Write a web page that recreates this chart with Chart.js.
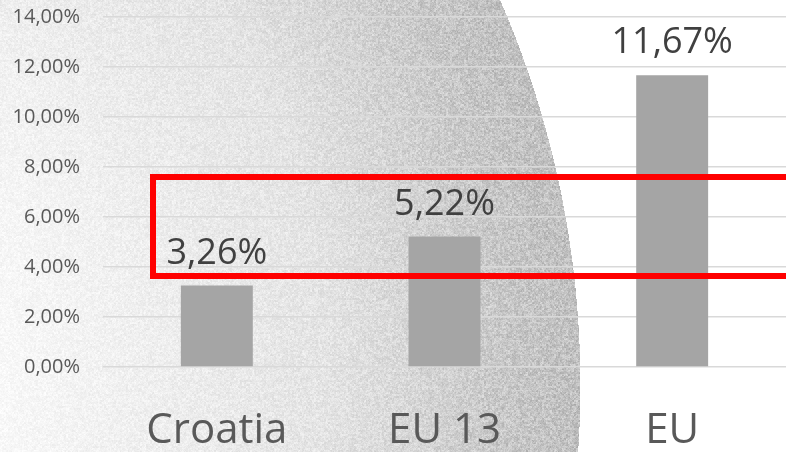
<!DOCTYPE html>
<html>
<head>
<meta charset="utf-8">
<script src="https://cdn.jsdelivr.net/npm/chart.js@4.4.0/dist/chart.umd.min.js"></script>
<style>
  html, body { margin: 0; padding: 0; background: #fff; }
  #wrap { width: 786px; height: 452px; }
</style>
</head>
<body>
<div id="wrap"><canvas id="myChart"></canvas></div>
<script>
const categories = ["Croatia", "EU 13", "EU"];
const values = [3.26, 5.22, 11.67];
const yTicks = [0, 2, 4, 6, 8, 10, 12, 14];

function fmt(v) {
    return v.toFixed(2).replace('.', ',') + '%';
}

function hash(x, y) {
    let n = Math.sin(x * 12.9898 + y * 78.233) * 43758.5453;
    return (n - Math.floor(n)) * 2 - 1;
}

// grainy background with the big darker disc
const backgroundTexture = {
    id: 'backgroundTexture',
    beforeDraw(chart) {
        const ctx = chart.ctx;
        const w = chart.width, h = chart.height;
        const img = ctx.createImageData(w, h);
        const cx = -386, cy = 385, r = 963;
        for (let y = 0; y < h; y++) {
            for (let x = 0; x < w; x++) {
                const t = Math.hypot(x - cx, y - cy) / r;
                let b;
                if (t > 1.003) b = 255;
                else if (t < 0.4) b = 248;
                else if (t < 0.74) b = 248 - (t - 0.4) / 0.34 * 20;
                else if (t < 0.92) b = 228 - (t - 0.74) / 0.18 * 28;
                else b = 200 - (t - 0.92) / 0.08 * 8;
                if (t <= 1.003) {
                    const n = 0.55 * hash(Math.floor(x / 2), Math.floor(y / 2)) + 0.45 * hash(x, y);
                    b += n * (6 + (255 - b) * 0.34);
                }
                b = Math.max(0, Math.min(255, b));
                const i = (y * w + x) * 4;
                img.data[i] = img.data[i + 1] = img.data[i + 2] = b;
                img.data[i + 3] = 255;
            }
        }
        ctx.putImageData(img, 0, 0);
    }
};

const valueLabels = {
    id: 'valueLabels',
    afterDatasetsDraw(chart) {
        const ctx = chart.ctx;
        ctx.save();
        ctx.font = '36px "Open Sans"';
        ctx.fillStyle = '#404040';
        ctx.textAlign = 'center';
        ctx.textBaseline = 'alphabetic';
        chart.getDatasetMeta(0).data.forEach((bar, i) => {
            ctx.fillText(fmt(values[i]), bar.x, bar.y - 22);
        });
        ctx.restore();
    }
};

// red highlight box
const highlightBox = {
    id: 'highlightBox',
    afterDraw(chart) {
        const ctx = chart.ctx;
        ctx.save();
        ctx.strokeStyle = '#ff0000';
        ctx.lineWidth = 6;
        ctx.strokeRect(153, 177, 700, 99);
        ctx.restore();
    }
};

new Chart("myChart", {
    type: "bar",
    data: {
        labels: categories,
        datasets: [{
            data: values,
            backgroundColor: "#a5a5a5",
            categoryPercentage: 1,
            barPercentage: 0.316
        }]
    },
    options: {
        responsive: true,
        maintainAspectRatio: false,
        animation: false,
        layout: { padding: { top: 17, right: 0, left: 0, bottom: 0 } },
        plugins: {
            legend: { display: false },
            tooltip: { enabled: false }
        },
        scales: {
            x: {
                afterFit(scale) {
                    scale.height = 85;
                    scale.paddingLeft = 0;
                    scale.paddingRight = 0;
                },
                grid: { display: false },
                border: { display: false },
                ticks: {
                    color: '#595959',
                    font: { family: 'Open Sans', size: 42 },
                    padding: 31,
                    maxRotation: 0
                }
            },
            y: {
                min: 0,
                max: 14,
                afterFit(scale) {
                    scale.width = 103;
                    scale.paddingTop = 0;
                    scale.paddingBottom = 0;
                },
                afterBuildTicks(scale) { scale.ticks = yTicks.map(v => ({ value: v })); },
                grid: { color: '#d9d9d9', lineWidth: 1.5, drawTicks: false },
                border: { display: false },
                ticks: {
                    color: '#595959',
                    font: { family: 'Open Sans', size: 20 },
                    padding: 23,
                    callback: v => fmt(v)
                }
            }
        }
    },
    plugins: [backgroundTexture, valueLabels, highlightBox]
});
</script>
</body>
</html>
